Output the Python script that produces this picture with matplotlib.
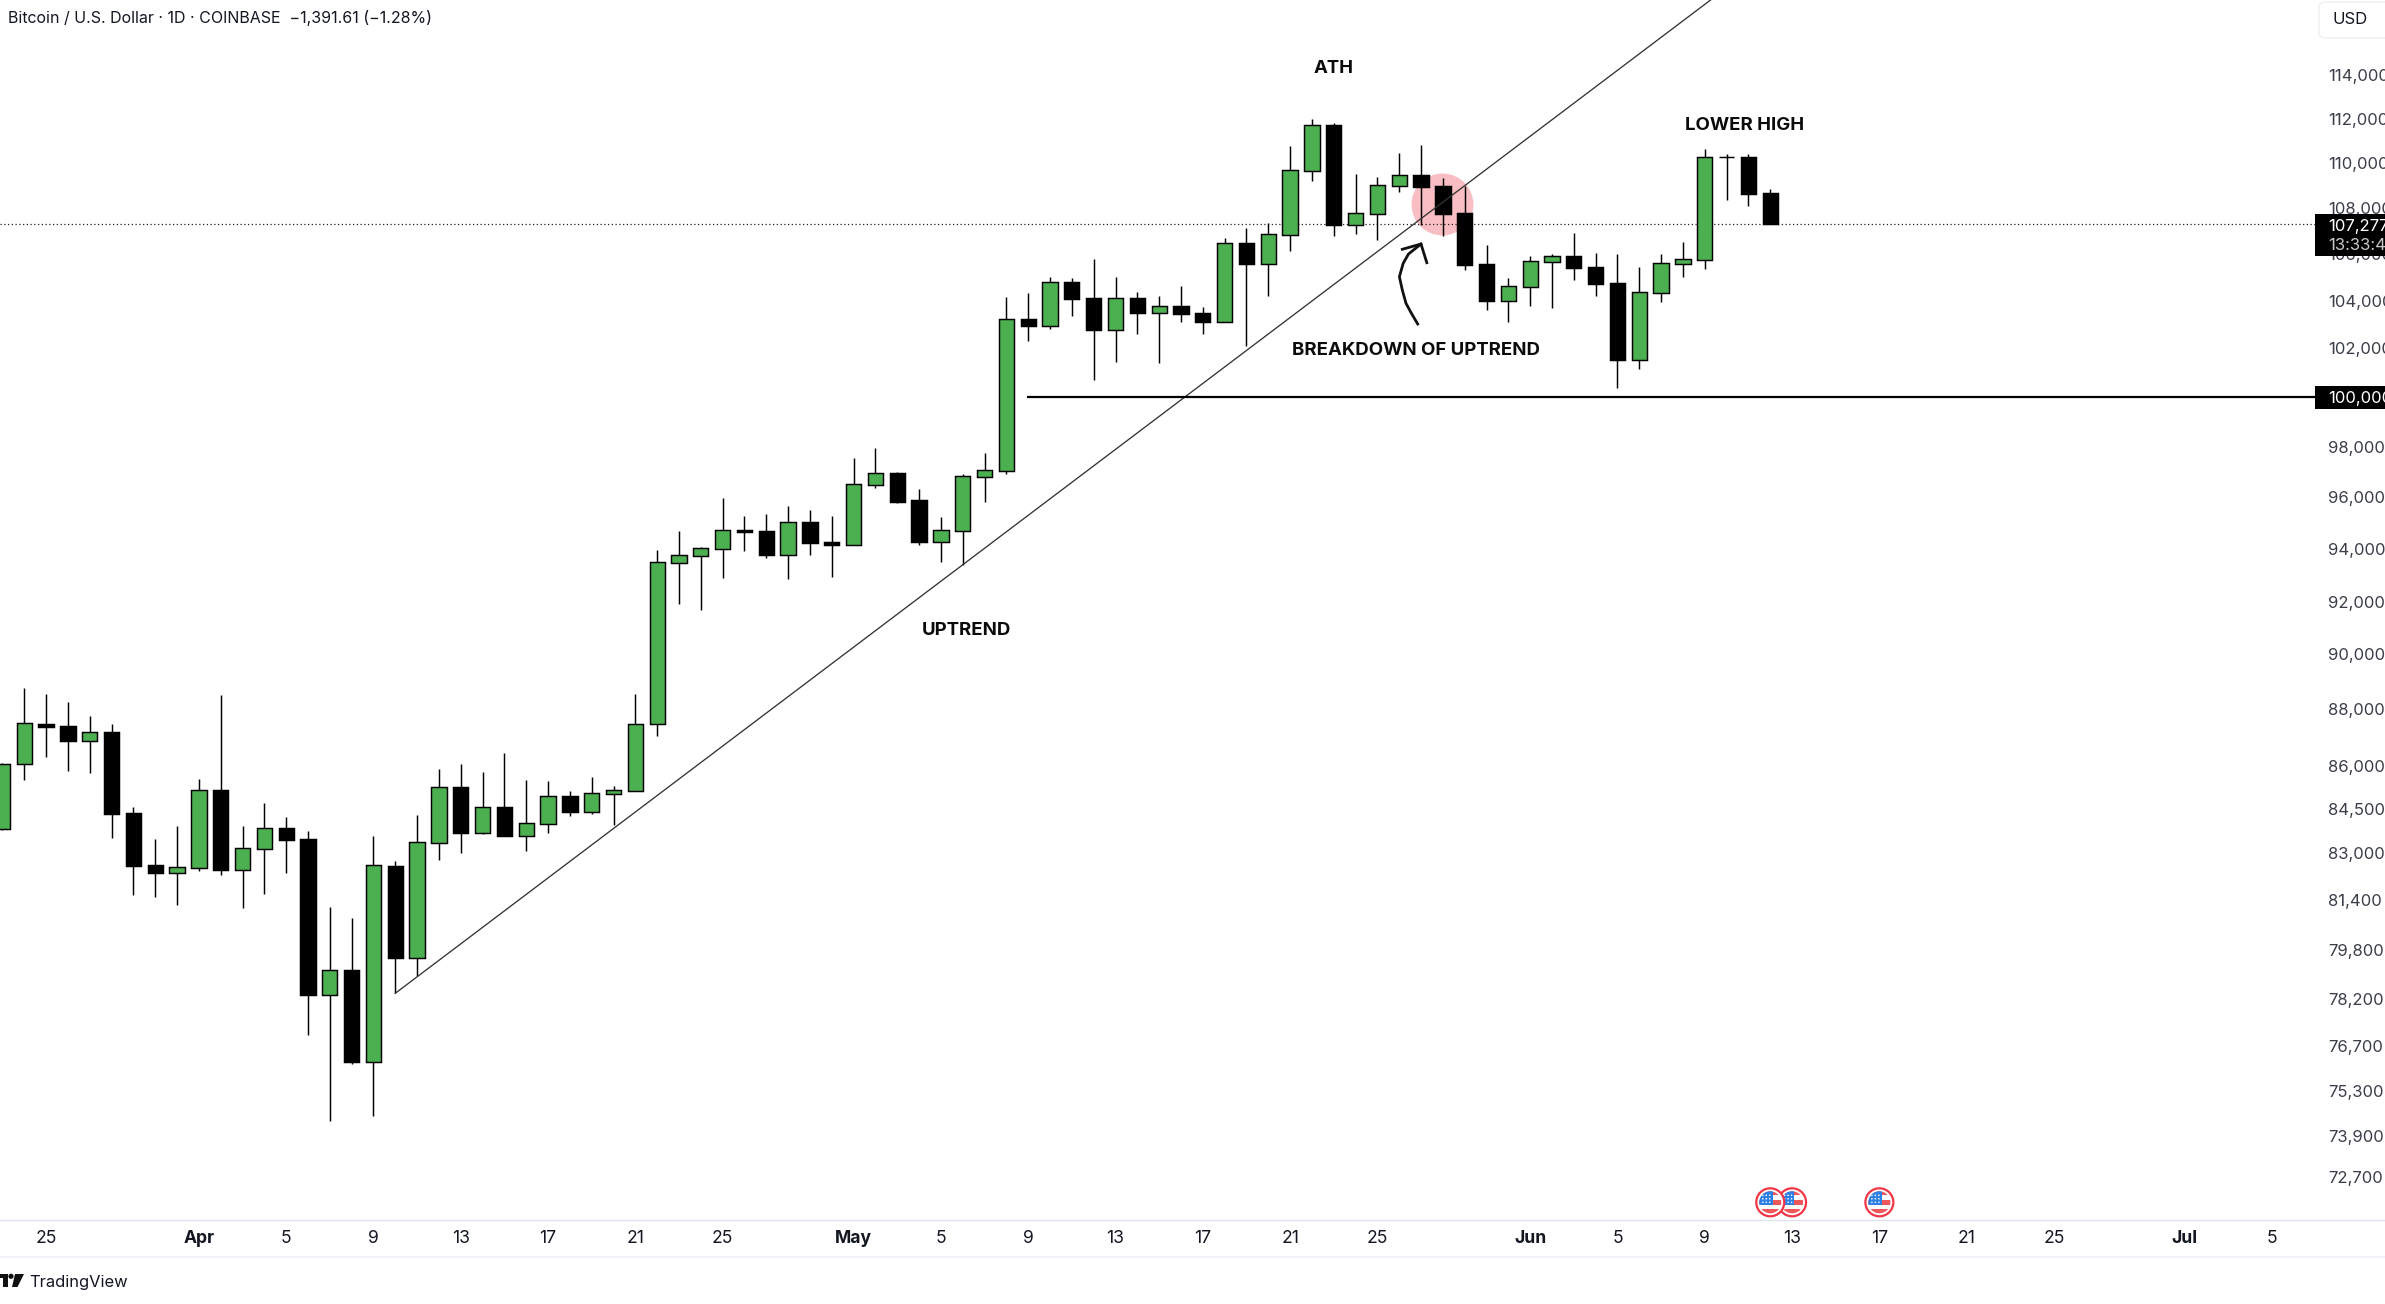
import matplotlib
matplotlib.use("Agg")
import matplotlib.pyplot as plt
from matplotlib.lines import Line2D
from matplotlib.patches import Circle, FancyBboxPatch, Polygon, Rectangle
from matplotlib.transforms import Affine2D

plt.rcParams['font.family'] = ['Inter', 'DejaVu Sans']

W, H = 2385, 1304
TEXT = '#131722'
GREEN = '#4CAF50'

# days counted from 25 March, first candle is 23 March
first_day = -2
opens = [83888, 86113, 87538, 87467, 86946, 87254, 84424, 82657, 82399, 82566,
         85218, 82500, 83207, 83911, 83536, 78407, 79198, 76298, 82623, 79597,
         83411, 85322, 83752, 84631, 83650, 84059, 85011, 84470, 85092, 85196,
         87527, 93480, 93747, 94013, 94731, 94692, 93784, 95040, 94270, 94167,
         96496, 96955, 95895, 94282, 94706, 96809, 97047, 103225, 102946, 104792,
         104112, 102779, 104112, 103492, 103774, 103478, 103114, 106469, 105578, 106830,
         109649, 111707, 107266, 107747, 108982, 109457, 108967, 107776, 105564, 103999,
         104593, 105664, 105907, 105434, 104749, 101531, 104338, 105578, 105750, 110261,
         110261, 108657]
highs = [86148, 88831, 88614, 88326, 87824, 87538, 84631, 83536, 83979, 85600,
         88578, 83979, 84769, 84287, 83808, 81255, 80893, 83639, 82791, 84355,
         85950, 86125, 85845, 86511, 85566, 85531, 85184, 85670, 85357, 88615,
         93962, 94692, 94077, 95973, 95272, 95350, 95661, 95505, 95272, 97548,
         97946, 96994, 96325, 95234, 96915, 97747, 104154, 104324, 105005, 104962,
         105777, 105005, 104366, 104196, 104621, 103731, 106687, 107121, 107339, 110756,
         111980, 111798, 109500, 109367, 110440, 110801, 109323, 108967, 106382, 104963,
         105907, 105993, 106903, 106036, 105993, 105434, 105993, 106512, 110621, 110395,
         110395, 108835]
lows = [83842, 85566, 86371, 85880, 85810, 83571, 81654, 81587, 81322, 82455,
        82320, 81223, 81686, 82388, 77131, 74478, 76225, 74629, 78449, 78999,
        82824, 83061, 83706, 83639, 83128, 83740, 84321, 84390, 84013, 85196,
        87124, 91921, 91696, 92898, 93924, 93658, 92861, 93771, 92936, 94167,
        96365, 95777, 94154, 93506, 93391, 95817, 96915, 102305, 102806, 103351,
        100695, 101434, 102597, 101393, 103100, 102597, 103114, 102097, 104197, 106122,
        109189, 106773, 106860, 106599, 108702, 107251, 106773, 105305, 103604, 103100,
        103773, 103689, 104877, 104197, 100367, 101146, 103943, 105005, 105349, 108348,
        108083, 107277]
closes = [86113, 87562, 87432, 86946, 87242, 84401, 82623, 82388, 82578, 85207,
          82488, 83219, 83899, 83502, 78396, 79187, 76288, 82645, 79586, 83423,
          85311, 83740, 84619, 83639, 84071, 85000, 84458, 85103, 85207, 87527,
          93493, 93760, 94026, 94718, 94654, 93771, 95027, 94231, 94154, 96509,
          96941, 95817, 94270, 94718, 96823, 97060, 103212, 102932, 104778, 104069,
          102765, 104097, 103478, 103758, 103436, 103100, 106454, 105578, 106845, 109664,
          111691, 107251, 107762, 108997, 109442, 108922, 107733, 105521, 103985, 104607,
          105678, 105893, 105392, 104707, 101517, 104352, 105592, 105763, 110246, 110246,
          108613, 107277]

# the lower labels are rounded, so they sit a little off their printed value
price_ticks = [114000, 112000, 110000, 108000, 106000, 104000, 102000, 100000,
               98000, 96000, 94000, 92000, 90050, 88060, 86070, 84560, 83060,
               81490, 79850, 78270, 76790, 75390, 74010, 72810]
price_labels = ['114,000', '112,000', '110,000', '108,000', '106,000', '104,000', '102,000',
                '100,000', '98,000', '96,000', '94,000', '92,000', '90,000', '88,000',
                '86,000', '84,500', '83,000', '81,400', '79,800', '78,200', '76,700',
                '75,300', '73,900', '72,700']
date_ticks = [0, 7, 11, 15, 19, 23, 27, 31, 37, 41, 45, 49, 53, 57, 61, 68, 72, 76,
              80, 84, 88, 92, 98, 102]
date_labels = ['25', 'Apr', '5', '9', '13', '17', '21', '25', 'May', '5', '9', '13',
               '17', '21', '25', 'Jun', '5', '9', '13', '17', '21', '25', 'Jul', '5']
months = ['Apr', 'May', 'Jun', 'Jul']

trend_days = [16.0, 77]
trend_prices = [78449, 118117]
support_days = [44.96, 104.1]
support_prices = [100000, 100000]
last_price = 107277
event_days = [84, 80, 79]

notes = ['ATH', 'LOWER HIGH', 'BREAKDOWN OF UPTREND', 'UPTREND']
note_days = [58.99, 77.84, 62.79, 42.15]
note_prices = [114320, 111680, 101900, 90925]
circle_day, circle_price = 63.98, 108172

days = [first_day + i for i in range(len(opens))]
colors = [GREEN if c >= o else 'black' for o, c in zip(opens, closes)]

fig = plt.figure(figsize=(W / 100, H / 100), dpi=100, facecolor='white')
ax = fig.add_axes([0, 84 / H, 2315 / W, 1220 / H])
ax.set_yscale('log')
ax.set_xlim(-2.112, 103.96)
ax.set_ylim(71534, 117536)
for s in ax.spines.values():
    s.set_visible(False)

ax.plot(circle_day, circle_price, marker='o', ms=44.6, color='#F9BEC4', mew=0, zorder=1)
ax.axhline(last_price, color='#222222', lw=0.9, ls=(0, (1, 2)), zorder=1.5)

# wicks and bodies
ax.vlines(days, lows, highs, color='black', lw=1.05, zorder=2)
ax.bar(days, [c - o for o, c in zip(opens, closes)], bottom=opens, width=0.7,
       color=colors, edgecolor='black', linewidth=1.05, zorder=3)

ax.plot(trend_days, trend_prices, color='#333333', lw=0.95, zorder=4)
ax.plot(support_days, support_prices, color='black', lw=1.6, zorder=4, solid_capstyle='butt')

for n, d, p in zip(notes, note_days, note_prices):
    ax.text(d, p, n, ha='center', va='center', fontsize=13.4, fontweight='bold', color='#0b0b0b', zorder=5)

ax.yaxis.tick_right()
ax.set_yticks(price_ticks)
ax.set_yticklabels(price_labels)
ax.minorticks_off()
ax.tick_params(axis='y', length=0, pad=9.4, labelsize=12, labelcolor='#3a3e48')
ax.set_xticks(date_ticks)
ax.set_xticklabels(date_labels)
ax.tick_params(axis='x', length=0, pad=7.5, labelsize=12.6, labelcolor=TEXT)
for lab in ax.get_xticklabels():
    if lab.get_text() in months:
        lab.set_fontweight('bold')

# everything below is chart furniture, placed in screen pixels
px = Affine2D().scale(1, -1).translate(0, H)

# hand drawn arrow
arrow_x = [1417.7, 1411.4, 1406, 1402.3, 1399.4, 1403.2, 1408.5, 1421]
arrow_y = [324, 313.3, 303.3, 290, 276.7, 263.3, 254, 244]
fig.add_artist(Line2D(arrow_x, arrow_y, color='#111111', lw=2, transform=px, zorder=3))
fig.add_artist(Line2D([1402.3, 1421, 1426.8], [249.3, 244, 262.7], color='#111111', lw=2,
                      transform=px, zorder=3))

# price labels on the axis
fig.add_artist(Rectangle((2315, 214), 70, 42, fc='black', ec='none', transform=px, zorder=3))
fig.add_artist(Rectangle((2315, 386), 70, 23, fc='black', ec='none', transform=px, zorder=3))
fig.text(2328, 226, f'{last_price:,}', color='white', fontsize=12, va='center', transform=px, zorder=4)
fig.text(2328, 245, '13:33:47', color='#c8c8c8', fontsize=12, va='center', transform=px, zorder=4)
fig.text(2328, 398, '100,000', color='white', fontsize=12, va='center', transform=px, zorder=4)

# currency button
fig.add_artist(FancyBboxPatch((2322, 5), 80, 30, boxstyle='round,pad=3,rounding_size=6', fc='white',
                              ec='#ECEEF3', lw=0.9, transform=px, zorder=3))
fig.text(2332, 20, 'USD', color=TEXT, fontsize=12, va='center', transform=px, zorder=4)

# header and footer
fig.text(8, 17.5, 'Bitcoin / U.S. Dollar · 1D · COINBASE  −1,391.61 (−1.28%)', color=TEXT,
         fontsize=11.5, va='center', transform=px)
fig.add_artist(Line2D([0, W], [1220, 1220], color='#E0E3EB', lw=1, transform=px))
fig.add_artist(Line2D([0, W], [1257, 1257], color='#F0F3FA', lw=1.4, transform=px))
fig.text(29, 1282, 'TradingView', color=TEXT, fontsize=11.9, va='center', transform=px)
for pts in ([(0, 1274), (7.5, 1274), (7.5, 1287), (3, 1287), (3, 1277.5), (0, 1277.5)],
            [(15, 1274), (24, 1274), (17.5, 1287), (12, 1287)]):
    fig.add_artist(Polygon(pts, fc='#111111', ec='none', transform=px))
fig.add_artist(Circle((11, 1276.3), 2.6, fc='#111111', ec='none', transform=px))


def draw_flag(cx, cy):
    fig.add_artist(Circle((cx, cy), 14, fc='white', ec='#F23645', lw=1.6, transform=px, zorder=3))
    clip = Circle((cx, cy), 11, transform=px)
    shapes = [Rectangle((cx - 12, cy + y0), 24, h, fc='#F0575B', ec='none', transform=px)
              for y0, h in ((-11, 4), (-2, 4.6), (6.3, 5))]
    shapes.append(Rectangle((cx - 11, cy - 11), 13.3, 13.5, fc='#2D7FE6', ec='none', transform=px))
    for r in (-7, -3.5, 0):
        for c in (-7.5, -4, -0.5):
            shapes.append(Circle((cx + c, cy + r), 0.8, fc='white', ec='none', transform=px))
    for s in shapes:
        s.set_zorder(3)
        s.set_clip_path(clip)
        fig.add_artist(s)


fig.canvas.draw()
for d in event_days:
    cx = ax.transData.transform((d, 100000))[0]
    draw_flag(cx, 1202.3)

fig.savefig('out.png', dpi=100)
